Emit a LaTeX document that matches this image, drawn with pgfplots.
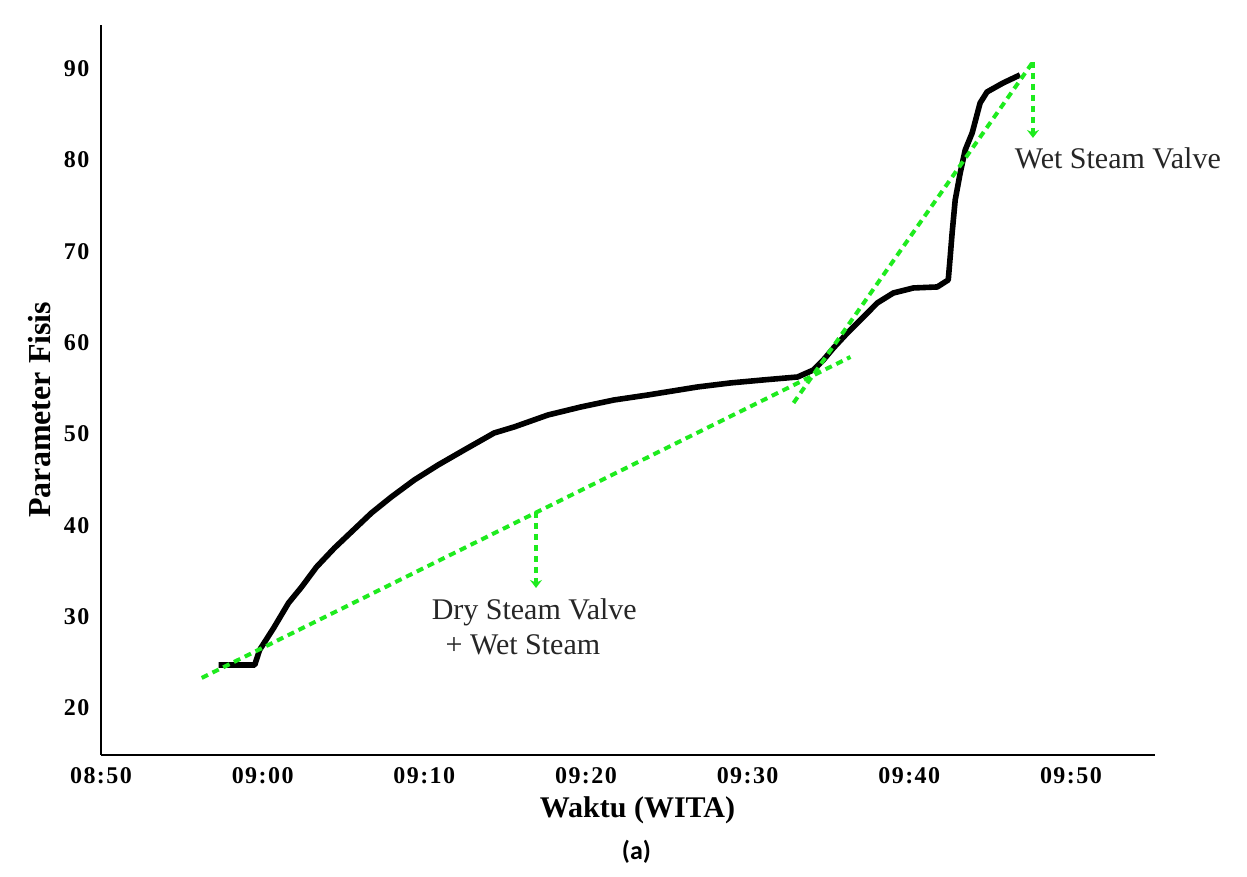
\documentclass[border=0pt]{standalone}
\usepackage{fontspec}
\setmainfont{Liberation Serif}
\newfontfamily\tickfont[LetterSpace=6]{Liberation Serif}
\newfontfamily\capfont{Carlito}
\usepackage{pgfplots}
\pgfplotsset{compat=1.18}
\usetikzlibrary{arrows.meta}
\definecolor{lgreen}{RGB}{30,235,30}

\pgfplotstableread{
x y
7.28 24.71
9.51 24.71
9.81 26.35
10.68 28.76
11.60 31.50
12.41 33.25
13.33 35.44
14.44 37.52
15.49 39.28
16.73 41.36
17.96 43.11
19.38 44.97
20.86 46.62
22.47 48.26
24.32 50.12
25.56 50.78
27.65 52.09
29.69 52.97
31.73 53.73
33.83 54.28
36.91 55.16
38.95 55.60
40.99 55.93
43.09 56.25
44.07 57.02
44.69 58.12
45.31 59.43
46.17 61.07
46.98 62.50
48.02 64.36
49.01 65.45
50.25 66.00
51.73 66.11
52.41 66.88
52.53 69.40
52.65 72.03
52.84 75.64
53.15 78.60
53.46 81.12
53.89 82.98
54.38 86.26
54.81 87.47
55.80 88.45
56.85 89.33
}\curve

\begin{document}
\begin{tikzpicture}
\useasboundingbox (-50.5pt,-61pt) rectangle (573pt,377.5pt);
\begin{axis}[
  scale only axis, width=527pt, height=365pt,
  xmin=0, xmax=65.2, ymin=14.85, ymax=94.8,
  axis x line*=bottom, axis y line*=left,
  axis line style={line width=1pt, -},
  x axis line style={-}, y axis line style={-},
  major tick length=0pt,
  xtick={0,10,20,30,40,50,60},
  xticklabels={08:50,09:00,09:10,09:20,09:30,09:40,09:50},
  ytick={20,30,40,50,60,70,80,90},
  /pgf/number format/assume math mode=true,
  ticklabel style={font=\tickfont\bfseries\fontsize{12}{14}\selectfont},
  xticklabel style={yshift=-2.5pt},
  yticklabel style={xshift=-2.3pt},
  xlabel={Waktu (WITA)},
  xlabel style={font=\bfseries\fontsize{15}{17}\selectfont, at={(axis description cs:0.509,-0.0753)}, anchor=center},
  ylabel={Parameter Fisis},
  ylabel style={font=\bfseries\fontsize{16}{18}\selectfont, at={(axis description cs:-0.0579,0.473)}, anchor=center},
  clip=false,
]
\addplot[black, line width=2.8pt, line join=round] table[x=x,y=y] {\curve};
\addplot[lgreen, line width=2pt, dash pattern=on 3.5pt off 2.5pt] coordinates {(6.23,23.29) (46.36,58.44)};
\addplot[lgreen, line width=2pt, dash pattern=on 3.5pt off 2.5pt] coordinates {(42.84,53.41) (57.65,90.76)};
\addplot[lgreen, line width=2pt, dash pattern=on 3pt off 2.5pt, -{Stealth[length=4pt,width=6pt]}] coordinates {(26.91,41.47) (26.91,33.14)};
\addplot[lgreen, line width=2pt, dash pattern=on 3pt off 2.5pt, -{Stealth[length=4pt,width=6pt]}] coordinates {(57.65,90.76) (57.65,82.43)};
\node[font=\fontsize{15}{17}\selectfont, text=black!85] at (axis cs:26.8,30.5) {Dry Steam Valve};
\node[font=\fontsize{15}{17}\selectfont, text=black!85] at (axis cs:26.1,26.9) {+ Wet Steam};
\node[font=\fontsize{15}{17}\selectfont, text=black!85] at (axis cs:62.9,80.24) {Wet Steam Valve};
\node[font=\capfont\bfseries\fontsize{13}{15}\selectfont] at (axis description cs:0.508,-0.1329) {(a)};
\end{axis}
\end{tikzpicture}
\end{document}
